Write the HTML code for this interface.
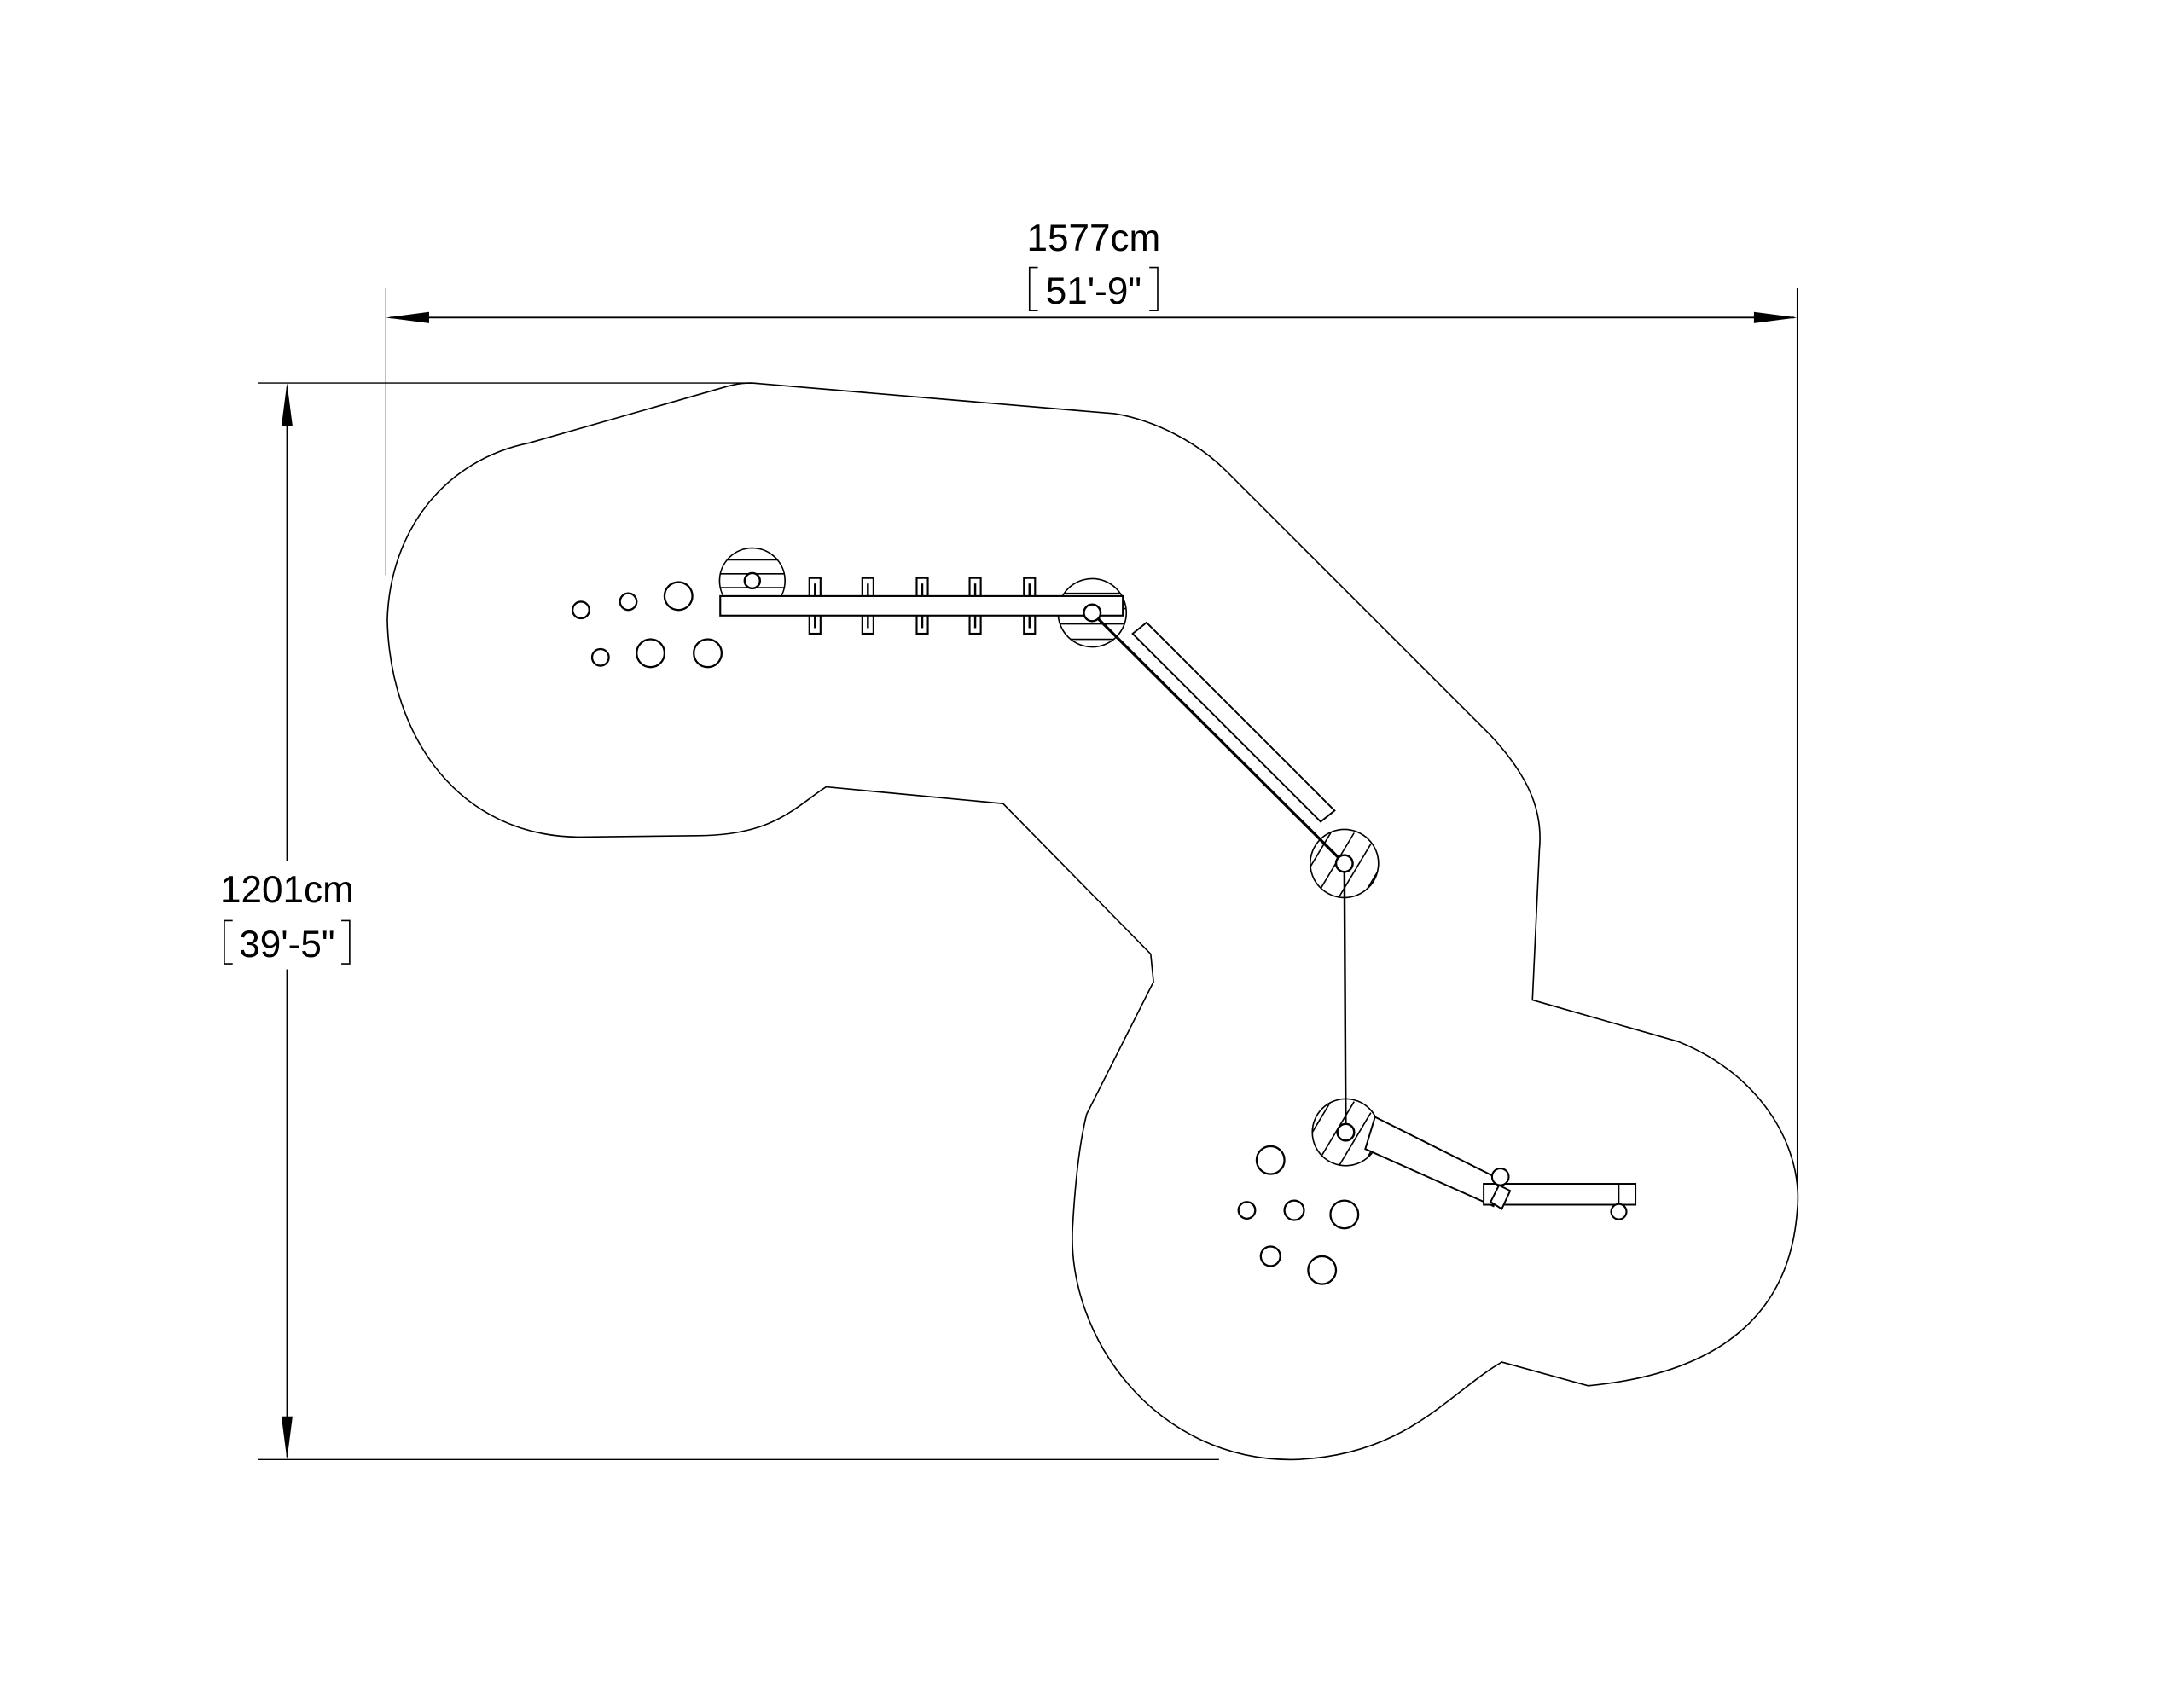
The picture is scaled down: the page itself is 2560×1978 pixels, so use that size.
<!DOCTYPE html>
<html><head><meta charset="utf-8"><style>
html,body{margin:0;padding:0;background:#fff}
svg{display:block}
text{font-family:"Liberation Sans",sans-serif;fill:#000}
</style></head><body>
<svg width="2560" height="1978" viewBox="0 0 1567.7 1211.3" xmlns="http://www.w3.org/2000/svg">
<defs>
<clipPath id="c1"><circle cx="540" cy="417" r="23.5"/></clipPath>
<clipPath id="c2"><circle cx="784" cy="440" r="24.5"/></clipPath>
<clipPath id="c3"><circle cx="965" cy="620" r="24.5"/></clipPath>
<clipPath id="c4"><circle cx="966" cy="813" r="24"/></clipPath>
</defs>
<g fill="none" stroke="#000" stroke-width="1">
<line x1="277" y1="207" x2="277" y2="413" stroke-width="0.7"/>
<line x1="1290" y1="207" x2="1290" y2="850" stroke-width="0.7"/>
<line x1="280" y1="228" x2="1288" y2="228" stroke-width="1.2"/>
<line x1="185" y1="275" x2="540" y2="275" stroke-width="0.8"/>
<line x1="185" y1="1048" x2="875" y2="1048" stroke-width="0.8"/>
<line x1="206" y1="278" x2="206" y2="1046" stroke-width="1"/>
<path d="M540,275 L800,297 C830,302 860,318 880,338 L1070,528 C1095,555 1108,580 1105,610 L1100,718 L1205,748 C1265,772 1295,825 1290,870 C1285,935 1245,985 1140,995 L1078,978 C1040,1000 1010,1045 930,1048 C830,1050 765,960 770,880 C772,845 775,820 780,800 L828,705 L826,685 L720,577 L593,565 C570,580 555,600 500,600 L415,601 C330,600 280,530 278,445 C280,380 320,330 380,318 L520,278 C530,275 535,275 540,275 Z" stroke-width="1"/>
<g stroke-width="1.4">
<circle cx="417" cy="438" r="6"/><circle cx="451" cy="432" r="6"/><circle cx="487" cy="428" r="10"/>
<circle cx="431" cy="472" r="6"/><circle cx="467" cy="469" r="10"/><circle cx="508" cy="469" r="10"/>
<circle cx="912" cy="833" r="10"/><circle cx="895" cy="869" r="6"/><circle cx="929" cy="869" r="7"/>
<circle cx="965" cy="872" r="10"/><circle cx="912" cy="902" r="7"/><circle cx="949" cy="912" r="10"/>
</g>
<circle cx="540" cy="417" r="23.5"/>
<g clip-path="url(#c1)"><line x1="500" y1="402" x2="580" y2="402"/><line x1="500" y1="412" x2="580" y2="412"/><line x1="500" y1="422" x2="580" y2="422"/><line x1="500" y1="432" x2="580" y2="432"/></g>
<circle cx="784" cy="440" r="24.5"/>
<g clip-path="url(#c2)"><line x1="750" y1="426" x2="820" y2="426"/><line x1="750" y1="437" x2="820" y2="437"/><line x1="750" y1="448" x2="820" y2="448"/><line x1="750" y1="459" x2="820" y2="459"/></g>
<circle cx="965" cy="620" r="24.5"/>
<g clip-path="url(#c3)"><line x1="930" y1="640" x2="960" y2="590"/><line x1="942" y1="648" x2="972" y2="598"/><line x1="954" y1="656" x2="984" y2="606"/><line x1="966" y1="664" x2="996" y2="614"/><line x1="918" y1="632" x2="948" y2="582"/></g>
<circle cx="966" cy="813" r="24"/>
<g clip-path="url(#c4)"><line x1="930" y1="833" x2="960" y2="783"/><line x1="942" y1="841" x2="972" y2="791"/><line x1="954" y1="849" x2="984" y2="799"/><line x1="966" y1="857" x2="996" y2="807"/><line x1="918" y1="825" x2="948" y2="775"/></g>
<g fill="#fff" stroke-width="1.3">
<rect x="581" y="415" width="8" height="40"/><rect x="619" y="415" width="8" height="40"/><rect x="658" y="415" width="8" height="40"/><rect x="696" y="415" width="8" height="40"/><rect x="735" y="415" width="8" height="40"/>
<rect x="517" y="428" width="289" height="14"/>
</g>
<g stroke-width="1.5"><line x1="585" y1="419" x2="585" y2="428"/><line x1="623" y1="419" x2="623" y2="428"/><line x1="662" y1="419" x2="662" y2="428"/><line x1="700" y1="419" x2="700" y2="428"/><line x1="739" y1="419" x2="739" y2="428"/>
<line x1="585" y1="442" x2="585" y2="451"/><line x1="623" y1="442" x2="623" y2="451"/><line x1="662" y1="442" x2="662" y2="451"/><line x1="700" y1="442" x2="700" y2="451"/><line x1="739" y1="442" x2="739" y2="451"/></g>
<line x1="784" y1="440" x2="965" y2="620" stroke-width="2"/>
<polygon points="813,455 823,447 958,582 948,590" stroke-width="1.2"/>
<line x1="965" y1="620" x2="966" y2="813" stroke-width="1.5"/>
<polygon points="987,802 1077,847 1072,866 980,825" fill="#fff" stroke-width="1.2"/>
<rect x="1065" y="850" width="109" height="15" fill="#fff" stroke-width="1.2"/>
<line x1="1162" y1="850" x2="1162" y2="865"/>
<polygon points="1070,863 1076,851 1084,855 1078,868" fill="#fff" stroke-width="1.2"/>
<circle cx="1077" cy="845" r="6" fill="#fff" stroke-width="1.3"/>
<circle cx="1162" cy="870" r="5.5" fill="#fff" stroke-width="1.3"/>
<g fill="#fff" stroke-width="1.5">
<circle cx="540" cy="417" r="5.5"/><circle cx="784" cy="440" r="6"/><circle cx="965" cy="620" r="6"/><circle cx="966" cy="813" r="6"/>
</g>
</g>
<g fill="#000">
<polygon points="277,228 308,224 308,232"/>
<polygon points="1290,228 1259,224 1259,232"/>
<polygon points="206,275 202,306 210,306"/>
<polygon points="206,1048 202,1017 210,1017"/>
</g>
<text x="785" y="180" font-size="27" text-anchor="middle">1577cm</text>
<text x="785" y="218" font-size="27" text-anchor="middle">51'-9"</text>
<g stroke="#000" fill="none" stroke-width="1"><path d="M745,192 L739,192 L739,223 L745,223"/><path d="M825,192 L831,192 L831,223 L825,223"/></g>
<rect x="150" y="618" width="112" height="78" fill="#fff"/>
<text x="206" y="648" font-size="27" text-anchor="middle">1201cm</text>
<text x="206" y="687" font-size="27" text-anchor="middle">39'-5"</text>
<g stroke="#000" fill="none" stroke-width="1"><path d="M167,661 L161,661 L161,692 L167,692"/><path d="M245,661 L251,661 L251,692 L245,692"/></g>
</svg>
</body></html>
